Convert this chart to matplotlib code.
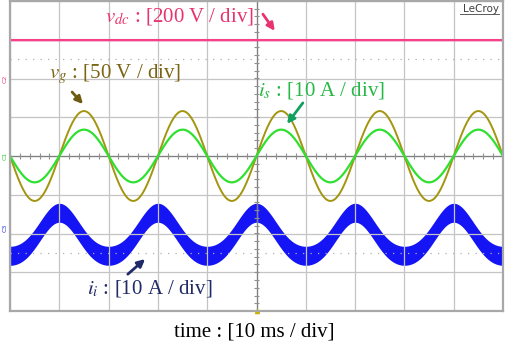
import matplotlib.pyplot as plt
import numpy as np

plt.rcParams['font.family'] = ['Liberation Serif', 'DejaVu Serif']
plt.rcParams['mathtext.fontset'] = 'stix'

# scope settings
n_xdiv = 10
n_ydiv = 8
ms_per_div = 10.0
f_grid = 50.0   # Hz

# channels: scale (unit/div) and ground marker position (div)
ch_names = ['C2', 'C1', 'C3']
ch_ground = [2.0, 0.0, -1.86]
ch_colors = ['#f0407f', '#33cc33', '#2233ee']
vdc_scale, vg_scale, is_scale, ii_scale = 200.0, 50.0, 10.0, 10.0

# values
vdc_level = 198.0   # V
vg_peak = 58.0      # V
is_peak = 6.8       # A
ii_dc = -2.2        # A
ii_fund = 5.55      # A
ii_2nd = 0.6        # A
ii_ripple = 4.9     # A peak-to-peak

labels = [r'$v_{dc}$ : [200 V / div]', r'$v_g$ : [50 V / div]',
          r'$i_s$ : [10 A / div]', r'$i_i$ : [10 A / div]']

t = np.linspace(0, n_xdiv * ms_per_div, 2001)   # ms
w = 2 * np.pi * f_grid * t / 1000.0
x = t / ms_per_div

vdc = np.full_like(t, vdc_level)
vg = -vg_peak * np.sin(w)
i_s = -is_peak * np.sin(w)
ii = ii_dc - ii_fund * np.cos(w) + ii_2nd * np.cos(2 * w)

fig = plt.figure(figsize=(5.05, 3.42), dpi=100)
ax = fig.add_axes([10 / 505, 31 / 342, 493 / 505, 310 / 342])
ax.set_xlim(0, n_xdiv)
ax.set_ylim(-n_ydiv / 2, n_ydiv / 2)

# graticule
ax.set_xticks(np.arange(0, n_xdiv + 1))
ax.set_yticks(np.arange(-n_ydiv / 2, n_ydiv / 2 + 1))
ax.grid(True, color='#c4c4c4', lw=0.9)
ax.tick_params(length=0, labelbottom=False, labelleft=False)
for s in ax.spines.values():
    s.set_color('#a8a8a8')
    s.set_linewidth(1.6)
ax.axhline(0, color='#808080', lw=0.9)
ax.axvline(n_xdiv / 2, color='#808080', lw=0.9)
minor_x = np.arange(0, n_xdiv, 0.2)
minor_y = np.arange(-n_ydiv / 2, n_ydiv / 2, 0.2)
ax.vlines(minor_x, -0.07, 0.07, color='#909090', lw=0.8)
ax.hlines(minor_y, n_xdiv / 2 - 0.05, n_xdiv / 2 + 0.05, color='#909090', lw=0.8)
for yl in (2.5, -2.5):
    ax.axhline(yl, color='#b0b0b0', lw=0.9, ls=(0, (1, 5)))

# traces
ax.plot(x, ch_ground[0] + vdc / vdc_scale, color='#f5408a', lw=1.7)
ax.plot(x, ch_ground[1] + vg / vg_scale, color='#a39510', lw=1.4)
ax.plot(x, ch_ground[1] + i_s / is_scale, color='#30e030', lw=1.6)
ax.fill_between(x, ch_ground[2] + (ii - ii_ripple / 2) / ii_scale,
                ch_ground[2] + (ii + ii_ripple / 2) / ii_scale,
                color='#1414f5', lw=0)

# channel markers on the left edge
for name, g, c in zip(ch_names, ch_ground, ch_colors):
    ax.text(-0.1, g, name, color=c, fontsize=4.5, rotation=90,
            ha='center', va='center', family='DejaVu Sans', clip_on=False)
ax.plot([n_xdiv / 2], [-n_ydiv / 2], marker='^', ms=3, color='#c8b400',
        clip_on=False)

# annotations
txt_x = [1.93, 0.79, 5.03, 1.56]
txt_y = [3.46, 2.01, 1.57, -3.56]
txt_c = ['#e8336e', '#7a6412', '#25b845', '#1f2a66']
arr_from = [(5.13, 3.66), (1.26, 1.65), (5.94, 1.37), (2.39, -3.05)]
arr_to = [(5.37, 3.23), (1.48, 1.34), (5.62, 0.83), (2.74, -2.66)]
arr_c = ['#e8336e', '#6e5a10', '#10a060', '#1f2a66']
for lab, tx, ty, tc, a0, a1, ac in zip(labels, txt_x, txt_y, txt_c,
                                        arr_from, arr_to, arr_c):
    ax.text(tx, ty, lab, color=tc, fontsize=15, va='baseline', ha='left')
    ax.annotate('', xy=a1, xytext=a0,
                arrowprops=dict(arrowstyle='-|>', color=ac, lw=2,
                                mutation_scale=11, shrinkA=0, shrinkB=0))

ax.text(4.95, -4.67, 'time : [10 ms / div]', fontsize=15, ha='center',
        va='baseline', clip_on=False)
ax.text(9.92, 3.8, 'LeCroy', fontsize=7.5, ha='right', va='center',
        family='DejaVu Sans', color='#404040')
ax.plot([9.12, 9.92], [3.66, 3.66], color='#404040', lw=0.6)

fig.savefig('out.png', dpi=100)
